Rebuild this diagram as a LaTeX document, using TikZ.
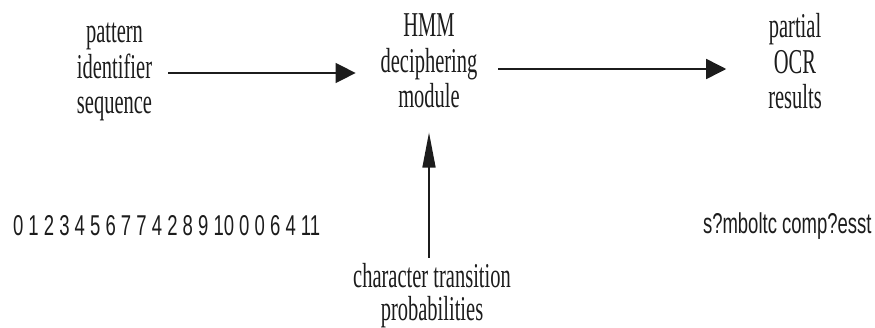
\documentclass[tikz,border=0pt]{standalone}
\usepackage{fontspec}
\setmainfont{Liberation Serif}
\setsansfont{Liberation Sans}
\usetikzlibrary{arrows.meta}
\newcommand\stk[2]{\scalebox{1}[1.7]{\fontsize{20.5}{#1}\selectfont\begin{tabular}{@{}c@{}}#2\end{tabular}}}
\newcommand\sline[1]{\scalebox{1}[1.55]{\fontsize{18.5}{22}\sffamily #1}}
\definecolor{ink}{HTML}{1C1C1C}
\begin{document}
\begin{tikzpicture}[x=1pt,y=-1pt,
  lbl/.style={inner sep=0pt, outer sep=0pt, text=ink},
  hflow/.style={draw=ink, line width=1.5pt, -{Triangle[length=20pt,width=20pt]}},
  vflow/.style={draw=ink, line width=1.5pt, -{Triangle[length=35pt,width=13pt]}}]
\useasboundingbox (0,0) rectangle (875,327);
\node[lbl] (src) at (114.5,71) {\stk{20.6}{pattern\\identifier\\sequence}};
\node[lbl] (hmm) at (429,65) {\stk{20.6}{HMM\\deciphering\\module}};
\node[lbl] (ocr) at (795,66) {\stk{20.6}{partial\\OCR\\results}};
\node[lbl] (prob) at (432,296) {\stk{17.6}{character transition\\probabilities}};
\node[lbl, anchor=base west] (seq) at (13,235) {\sline{0 1 2 3 4 5 6 7 7 4 2 8 9 10 0 0 6 4 11}};
\node[lbl, anchor=base west] (res) at (703,233) {\sline{s?mboltc comp?esst}};
\draw[hflow, shorten <=16pt, shorten >=25pt] ([yshift=-2pt]src.east) -- ([yshift=-2pt]src.east -| hmm.west);
\draw[hflow, shorten <=21pt, shorten >=42pt] ([yshift=-4pt]hmm.east) -- ([yshift=-4pt]hmm.east -| ocr.west);
\draw[vflow, shorten <=5pt, shorten >=15pt] (hmm.south |- prob.north) -- (hmm.south);
\end{tikzpicture}
\end{document}
